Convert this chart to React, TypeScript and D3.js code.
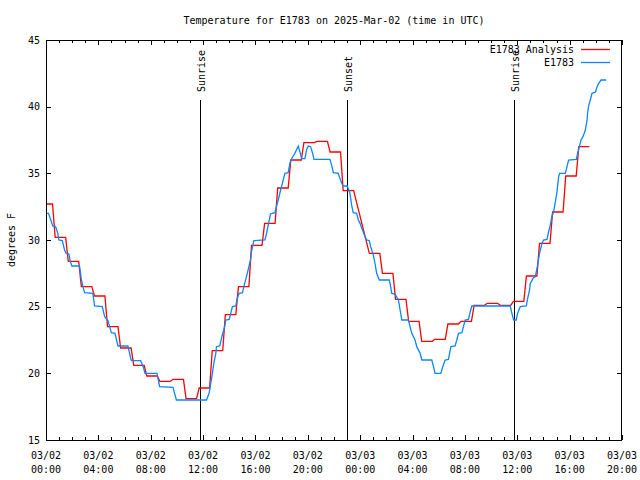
import React from 'react';
import * as d3 from 'd3';

const START = Date.UTC(2025, 2, 2, 0, 0);
const SPAN_HOURS = 44;
const TITLE = 'Temperature for E1783 on 2025-Mar-02 (time in UTC)';
const Y_LABEL = 'degrees F';
const yTicks = [15, 20, 25, 30, 35, 40, 45];
const seriesNames = ['E1783 Analysis', 'E1783'];
const seriesColors = ['#ff0000', '#0a86ff'];

// hourly analysis values (null = no plateau that hour)
const analysisHourly: (number | null)[] = [
  32.7, 30.2, 28.4, 26.5, 25.8, 23.5, 21.9, 20.6, 19.8, 19.4, 19.55, 18.1, 18.9, 21.7,
  24.4, 26.5, 29.6, 31.25, 33.9, 36.0, 37.3, 37.4, 36.6, 33.7, null, 29.0, 27.5, 25.55,
  23.9, 22.4, 22.55, 23.7, 23.9, 25.1, 25.25, 25.1, 25.4, 27.3, 29.75, 32.1, 34.8, 37.0,
];

// observation times (hours after 03/02 00:00 UTC) and temperatures
const obsHours = [
  0, 0.19, 0.4, 0.52, 0.73, 0.9, 0.98, 1.24, 1.42, 1.54, 1.75, 1.85, 1.98, 2.56, 2.69, 2.82,
  2.95, 3.58, 3.71, 4.3, 4.48, 4.73, 4.86, 4.99, 5.27, 5.5, 6.26, 6.44, 6.52, 7.23, 7.46, 7.56,
  8.48, 8.68, 9.7, 9.96, 12.26, 12.46, 12.56, 12.71, 12.82, 12.97, 13.02, 13.27, 13.4, 13.53,
  13.66, 13.73, 13.99, 14.09, 14.24, 14.5, 14.6, 14.75, 15.01, 15.11, 15.26, 15.44, 15.62,
  15.72, 15.88, 16.72, 16.85, 16.97, 17.15, 17.48, 17.74, 17.92, 18.07, 18.25, 18.5, 18.63,
  18.76, 19.01, 19.27, 19.4, 19.53, 19.78, 19.9, 20.03, 20.21, 20.37, 20.47, 21.69, 21.82,
  21.95, 22.33, 22.46, 22.59, 22.71, 23.01, 23.22, 23.35, 23.47, 23.73, 23.86, 23.99, 24.12,
  24.37, 24.5, 24.7, 24.8, 25.0, 25.13, 25.26, 25.46, 26.23, 26.33, 26.41, 26.66, 26.92, 27.05,
  27.18, 27.68, 27.81, 27.94, 28.19, 28.32, 28.58, 28.71, 29.47, 29.6, 29.72, 30.16, 30.31,
  30.49, 30.74, 30.93, 31.25, 31.38, 31.51, 31.77, 31.89, 32.02, 32.27, 32.4, 32.53, 35.46,
  35.59, 35.72, 35.92, 36.02, 36.23, 36.69, 36.79, 36.94, 36.99, 37.25, 37.38, 37.55, 37.7,
  37.89, 38.01, 38.27, 38.39, 38.52, 38.65, 38.77, 38.9, 39.03, 39.16, 39.24, 39.67, 39.8,
  39.92, 40.51, 40.61, 40.77, 40.87, 41.02, 41.2, 41.33, 41.38, 41.46, 41.58, 41.71, 41.97,
  42.1, 42.22, 42.4, 42.79,
];
const obsTemps = [
  32, 32, 31.4, 31.05, 31.0, 30.5, 30.0, 29.95, 29.25, 29.0, 28.95, 28.4, 28.05, 28.05, 27.1,
  26.5, 26.05, 26.0, 25.05, 25.0, 24.25, 23.95, 23.5, 23.05, 23.0, 22.05, 22.05, 21.25, 20.95,
  20.95, 20.4, 20.0, 20.0, 19.0, 18.95, 18.0, 18.0, 18.5, 19.1, 20.0, 20.75, 21.5, 22.0, 22.05,
  22.6, 23.1, 23.55, 24.0, 24.05, 24.4, 25.0, 25.05, 25.6, 26.0, 26.05, 26.5, 27.05, 27.75,
  28.5, 29.25, 29.95, 30.0, 30.5, 31.1, 31.95, 32.05, 33.0, 33.75, 34.3, 35.0, 35.05, 35.75,
  36.1, 36.5, 37.05, 36.6, 36.1, 36.1, 36.75, 37.05, 37.0, 36.5, 36.05, 36.05, 35.6, 35.05,
  35.0, 34.6, 34.25, 34.05, 34.05, 33.5, 32.6, 32.05, 32.0, 31.5, 31.25, 30.9, 30.25, 30.0,
  29.95, 29.5, 28.9, 28.25, 27.5, 27.0, 27.0, 26.5, 26.0, 25.95, 25.5, 24.75, 24.0, 24.0, 23.5,
  23.0, 22.5, 22.0, 21.5, 21.0, 21.0, 20.5, 20.0, 20.0, 20.5, 21.0, 21.05, 22.0, 22.05, 22.5,
  23.0, 23.05, 23.5, 24.0, 24.05, 24.6, 25.05, 25.05, 24.5, 24.0, 24.0, 24.5, 25.0, 25.05,
  25.6, 26.25, 26.75, 27.2, 27.25, 28.1, 29.0, 29.75, 30.0, 30.05, 30.6, 31.1, 31.8, 32.1,
  32.8, 33.6, 34.75, 35.0, 35.0, 35.5, 36.0, 36.05, 36.5, 37.1, 37.5, 37.75, 38.25, 39.0, 39.6,
  40.1, 40.5, 41.0, 41.1, 41.5, 41.75, 42.0, 42.0,
];

const sunLabels = ['Sunrise', 'Sunset', 'Sunrise'];
const sunHours = [11.8, 23.0, 35.72];

const FONT = 'DejaVu Sans Mono';

export default function App() {
  const W = 640;
  const H = 480;
  const L = 46, R = 622, T = 40, B = 440;
  const toDate = (h: number) => new Date(START + h * 3600e3);
  const x = d3.scaleUtc().domain([toDate(0), toDate(SPAN_HOURS)]).range([L, R]);
  const y = d3.scaleLinear().domain([15, 45]).range([B, T]);
  const line = d3
    .line<[number, number]>()
    .x((d) => x(toDate(d[0])))
    .y((d) => y(d[1]));

  const analysisPts: [number, number][] = [];
  analysisHourly.forEach((v, i) => {
    if (v == null) return;
    analysisPts.push([Math.max(0, i - 0.3), v]);
    analysisPts.push([i + 0.5, v]);
  });
  const obsPts: [number, number][] = obsHours.map((h, i) => [h, obsTemps[i]]);

  const hourTicks = d3.range(0, SPAN_HOURS + 1);
  const fmtDate = d3.utcFormat('%m/%d');
  const fmtTime = d3.utcFormat('%H:%M');

  return (
    <svg
      width={W}
      height={H}
      style={{ position: 'absolute', left: 0, top: 0, background: '#fff' }}
      fontFamily={FONT}
      fontSize={10}
    >
      <rect x={0} y={0} width={W} height={H} fill="#fff" />
      <defs>
        <clipPath id="plotclip">
          <rect x={L} y={T} width={R - L} height={B - T} />
        </clipPath>
      </defs>
      {/* title */}
      <text x={(L + R) / 2} y={20} textAnchor="middle" dominantBaseline="central">
        {TITLE}
      </text>
      {/* y label */}
      <text
        transform={`translate(11,${(T + B) / 2}) rotate(-90)`}
        textAnchor="middle"
        dominantBaseline="central"
      >
        {Y_LABEL}
      </text>
      {/* x ticks */}
      <g stroke="#000" strokeWidth={1} shapeRendering="crispEdges">
        {hourTicks.map((h) => {
          const len = h % 4 === 0 ? 5 : 3;
          const xx = Math.round(x(toDate(h))) + 0.5;
          return (
            <g key={h}>
              <line x1={xx} x2={xx} y1={B} y2={B - len} />
              <line x1={xx} x2={xx} y1={T} y2={T + len} />
            </g>
          );
        })}
        {yTicks.map((v) => {
          const yy = Math.round(y(v)) + 0.5;
          return (
            <g key={v}>
              <line x1={L} x2={L + 5} y1={yy} y2={yy} />
              <line x1={R} x2={R - 5} y1={yy} y2={yy} />
            </g>
          );
        })}
      </g>
      {/* y tick labels */}
      {yTicks.map((v) => (
        <text key={v} x={40} y={y(v)} textAnchor="end" dominantBaseline="central">
          {v}
        </text>
      ))}
      {/* x tick labels */}
      {hourTicks
        .filter((h) => h % 4 === 0)
        .map((h) => (
          <g key={h}>
            <text x={x(toDate(h))} y={455} textAnchor="middle" dominantBaseline="central">
              {fmtDate(toDate(h))}
            </text>
            <text x={x(toDate(h))} y={469} textAnchor="middle" dominantBaseline="central">
              {fmtTime(toDate(h))}
            </text>
          </g>
        ))}
      {/* sun event lines */}
      {sunHours.map((h, i) => {
        const xx = Math.round(x(toDate(h))) + 0.5;
        return (
          <g key={i}>
            <line x1={xx} x2={xx} y1={100} y2={B} stroke="#000" strokeWidth={1} shapeRendering="crispEdges" />
            <text
              transform={`translate(${xx + 1},92) rotate(-90)`}
              textAnchor="start"
              dominantBaseline="central"
            >
              {sunLabels[i]}
            </text>
          </g>
        );
      })}
      {/* series */}
      <g clipPath="url(#plotclip)" fill="none" strokeWidth={1.3} strokeLinejoin="miter">
        <path d={line(analysisPts) || ''} stroke={seriesColors[0]} />
        <path d={line(obsPts) || ''} stroke={seriesColors[1]} />
      </g>
      {/* legend */}
      {seriesNames.map((name, i) => {
        const yy = 49.5 + i * 13;
        return (
          <g key={name}>
            <text x={574} y={yy} textAnchor="end" dominantBaseline="central">
              {name}
            </text>
            <line x1={581} x2={610} y1={yy} y2={yy} stroke={seriesColors[i]} strokeWidth={1.3} />
          </g>
        );
      })}
      {/* frame */}
      <rect
        x={L + 0.5}
        y={T + 0.5}
        width={R - L - 1}
        height={B - T}
        fill="none"
        stroke="#000"
        strokeWidth={1}
        shapeRendering="crispEdges"
      />
    </svg>
  );
}
